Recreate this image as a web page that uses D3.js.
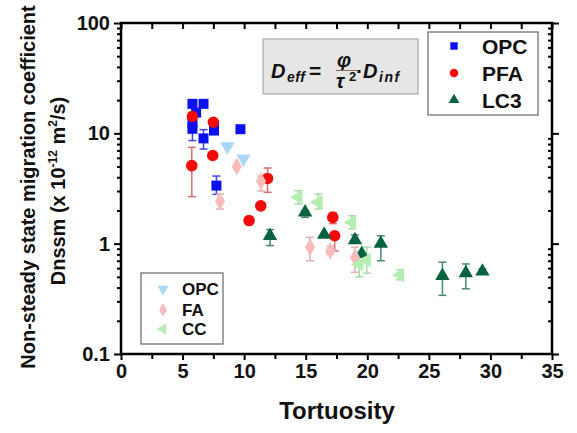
<!DOCTYPE html>
<html><head><meta charset="utf-8">
<script src="https://cdn.jsdelivr.net/npm/d3@7"></script>
<style>body{margin:0;background:#fff}svg{display:block}text{font-family:"Liberation Sans",Arial,sans-serif}</style>
</head><body><svg id="c" width="577" height="433"></svg>
<script>
// ---- data ----
const xTicks = [0,5,10,15,20,25,30,35];
const yTicks = [0.1,1,10,100];
const yTickLabels = ["0.1","1","10","100"];

const opcX  = [5.8, 6.7, 6.1, 5.8, 5.8, 7.55, 7.55, 9.7, 6.7, 7.75];
const opcY  = [18.5,18.5,15.4,12.5,11.0,11.8,10.6,10.9,9.0,3.36];
const opcLo = [null,null,null,null,8.6,null,null,null,7.2,2.8];
const opcHi = [null,null,null,null,13, null,null,null,10.8,4.1];

const pfaX  = [5.8, 5.75, 7.5, 7.45, 11.9, 11.35, 10.4, 17.2, 17.35];
const pfaY  = [14.2,5.1, 12.6,6.3, 3.9, 2.2, 1.62, 1.73, 1.18];
const pfaLo = [12.6,2.67,null,null,2.92,null,1.5, 1.52, 0.86];
const pfaHi = [15.5,7.46,null,null,4.85,null,1.75,1.92, 1.27];

const lc3X  = [12.1, 14.95, 16.5, 19.0, 19.55, 21.1, 26.1, 28.0, 29.35];
const lc3Y  = [1.18, 1.92, 1.21, 1.08, 0.81, 1.0, 0.51, 0.54, 0.56];
const lc3Lo = [0.96, 1.73, null, null, null, 0.70, 0.34, 0.39, 0.53];
const lc3Hi = [1.34, 2.0,  null, 1.2,  null, 1.18, 0.68, 0.655,0.59];

const opc2X  = [8.64, 9.94];
const opc2Y  = [7.6, 5.9];
const opc2Lo = [null, null];
const opc2Hi = [null, null];

const faX  = [9.4, 11.37, 8.04, 15.35, 17.0, 19.0];
const faY  = [5.0, 3.67, 2.42, 0.93, 0.86, 0.75];
const faLo = [null,3.0, 2.06, 0.70, 0.80, 0.55];
const faHi = [null,4.1, 2.82, 1.14, 0.95, 0.93];

const ccX  = [14.4, 16.03, 18.74, 19.96, 19.35, 22.66];
const ccY  = [2.63, 2.37, 1.56, 0.71, 0.65, 0.52];
const ccLo = [2.29, 2.06, 1.36, 0.54, 0.50, 0.47];
const ccHi = [3.02, 2.82, 1.79, 0.93, 0.85, 0.58];

// ---- layout ----
const svg = d3.select("#c");
const L=121, R=552, T=23, B=354;
const x = d3.scaleLinear().domain([0,35]).range([L,R]);
const y = d3.scaleLog().domain([0.1,100]).range([B,T]);

const series = [
  {name:"OPC", xs:opcX, ys:opcY, lo:opcLo, hi:opcHi, sym:d3.symbolSquare, size:100, rot:0, fill:"#0a10f0", err:"#3c46f0"},
  {name:"PFA", xs:pfaX, ys:pfaY, lo:pfaLo, hi:pfaHi, sym:d3.symbolCircle, size:105, rot:0, fill:"#f50a0a", err:"#e06a6a"},
  {name:"LC3", xs:lc3X, ys:lc3Y, lo:lc3Lo, hi:lc3Hi, sym:d3.symbolTriangle, size:90, rot:0, fill:"#07633f", err:"#4a8a70"},
  {name:"OPC", xs:opc2X, ys:opc2Y, lo:opc2Lo, hi:opc2Hi, sym:d3.symbolTriangle, size:90, rot:180, fill:"#aad8f6", err:"#aad8f6"},
  {name:"FA", xs:faX, ys:faY, lo:faLo, hi:faHi, sym:d3.symbolDiamond, size:90, rot:0, fill:"#f8bcbc", err:"#e5b0b0"},
  {name:"CC", xs:ccX, ys:ccY, lo:ccLo, hi:ccHi, sym:d3.symbolTriangle, size:90, rot:-90, fill:"#b4eeb0", err:"#a8dca8"}
];

// ---- axes ----
function minorX(){ const a=[]; for(let v=2.5; v<35; v+=5) a.push(v); return a; }
function minorY(){ const a=[]; [0.1,1,10].forEach(d=>{for(let k=2;k<=9;k++) a.push(d*k);}); return a; }

svg.append("g").attr("transform",`translate(0,${B})`)
  .call(d3.axisBottom(x).tickValues(xTicks).tickSize(6).tickPadding(4).tickFormat(d3.format("d")));
svg.append("g").attr("transform",`translate(0,${B})`)
  .call(d3.axisBottom(x).tickValues(minorX()).tickSize(5).tickFormat(""));
svg.append("g").attr("transform",`translate(0,${T})`)
  .call(d3.axisBottom(x).tickValues(xTicks.concat(minorX())).tickSize(6).tickFormat(""));
svg.append("g").attr("transform",`translate(${L},0)`)
  .call(d3.axisLeft(y).tickValues(yTicks).tickSize(7).tickPadding(4).tickFormat((d,i)=>yTickLabels[i]));
svg.append("g").attr("transform",`translate(${L},0)`)
  .call(d3.axisLeft(y).tickValues(minorY()).tickSize(4).tickFormat(""));
svg.append("g").attr("transform",`translate(${R},0)`)
  .call(d3.axisLeft(y).tickValues(yTicks).tickSize(-7).tickFormat(""));
svg.append("g").attr("transform",`translate(${R},0)`)
  .call(d3.axisRight(y).tickValues(minorY()).tickSize(-4).tickFormat(""));
svg.selectAll(".domain").remove();
svg.selectAll(".tick line").attr("stroke","#000").attr("stroke-width",2);
svg.selectAll(".tick text").attr("font-size",20).attr("font-weight","bold").attr("fill","#111");

// frame
svg.append("rect").attr("x",L).attr("y",T).attr("width",R-L).attr("height",B-T)
  .attr("fill","none").attr("stroke","#000").attr("stroke-width",2.5);

// ---- points & error bars ----
const plot = svg.append("g");
series.forEach(s=>{
  s.xs.forEach((xv,i)=>{
    const cx=x(xv), cy=y(s.ys[i]);
    [s.lo[i], s.hi[i]].forEach(v=>{
      if(v==null) return;
      plot.append("line").attr("x1",cx).attr("x2",cx).attr("y1",cy).attr("y2",y(v)).attr("stroke",s.err).attr("stroke-width",1.5);
      plot.append("line").attr("x1",cx-4).attr("x2",cx+4).attr("y1",y(v)).attr("y2",y(v)).attr("stroke",s.err).attr("stroke-width",1.5);
    });
  });
});
series.forEach(s=>{
  s.xs.forEach((xv,i)=>{
    plot.append("path").attr("d",d3.symbol().type(s.sym).size(s.size)())
      .attr("transform",`translate(${x(xv)},${y(s.ys[i])}) rotate(${s.rot})`)
      .attr("fill",s.fill);
  });
});

// ---- legends ----
function legend(x0,y0,w,h,items,rows,tx,fs,sx,scale){
  svg.append("rect").attr("x",x0).attr("y",y0).attr("width",w).attr("height",h)
    .attr("fill","#fff").attr("stroke","#666").attr("stroke-width",1.2);
  items.forEach((s,i)=>{
    svg.append("path").attr("d",d3.symbol().type(s.sym).size(s.size*scale)())
      .attr("transform",`translate(${sx},${rows[i]}) rotate(${s.rot})`).attr("fill",s.fill);
    svg.append("text").attr("x",tx).attr("y",rows[i]).attr("dy","0.36em")
      .attr("font-size",fs).attr("font-weight","bold").attr("fill","#111").text(s.name);
  });
}
legend(428,32,110,83,series.slice(0,3),[46,73,100],482,21,454,0.55);
legend(141,273,82,71,series.slice(3,6),[289,310,329],182,17,163,0.6);

// ---- formula box ----
svg.append("rect").attr("x",263).attr("y",39).attr("width",155).attr("height",55)
  .attr("fill","#e6e6e6").attr("stroke","#999").attr("stroke-width",1);
const ff = '"DejaVu Serif","Liberation Serif",serif';
function ft(xp,yp,t,fs,ls){ return svg.append("text").attr("x",xp).attr("y",yp).attr("font-family",ff)
  .attr("font-style","italic").attr("font-weight","bold").attr("font-size",fs)
  .attr("letter-spacing",ls||0).attr("fill","#111").text(t); }
ft(271,78,"D",20);
ft(287,82,"eff",14,0.5);
svg.append("text").attr("x",309).attr("y",78).attr("font-family",ff).attr("font-weight","bold").attr("font-size",21).attr("fill","#111").text("=");
ft(337,67,"φ",20);
svg.append("line").attr("x1",336).attr("x2",357).attr("y1",70.5).attr("y2",70.5).attr("stroke","#8a6a60").attr("stroke-width",1);
ft(336,88,"τ",20);
svg.append("text").attr("x",349).attr("y",81).attr("font-family",ff).attr("font-weight","bold").attr("font-size",13).attr("fill","#111").text("2");
svg.append("text").attr("x",356).attr("y",78).attr("font-family",ff).attr("font-weight","bold").attr("font-size",21).attr("fill","#111").text("·");
ft(363,78,"D",20);
ft(379,82,"inf",14,1.5);

// ---- axis titles ----
svg.append("text").attr("x",337).attr("y",419).attr("text-anchor","middle")
  .attr("font-size",24).attr("font-weight","bold").attr("fill","#111").text("Tortuosity");
const yl = svg.append("g").attr("transform","translate(35,187) rotate(-90)");
yl.append("text").attr("x",0).attr("y",0).attr("text-anchor","middle")
  .attr("font-size",20).attr("font-weight","bold").attr("fill","#111").text("Non-steady state migration coefficient");
const t2 = yl.append("text").attr("x",-4).attr("y",30).attr("text-anchor","middle")
  .attr("font-size",20).attr("font-weight","bold").attr("fill","#111");
t2.append("tspan").text("Dnssm (x 10");
t2.append("tspan").attr("font-size",12).attr("dy",-8).text("-12");
t2.append("tspan").attr("dy",8).text(" m");
t2.append("tspan").attr("font-size",12).attr("dy",-8).text("2");
t2.append("tspan").attr("dy",8).text("/s)");
</script></body></html>
